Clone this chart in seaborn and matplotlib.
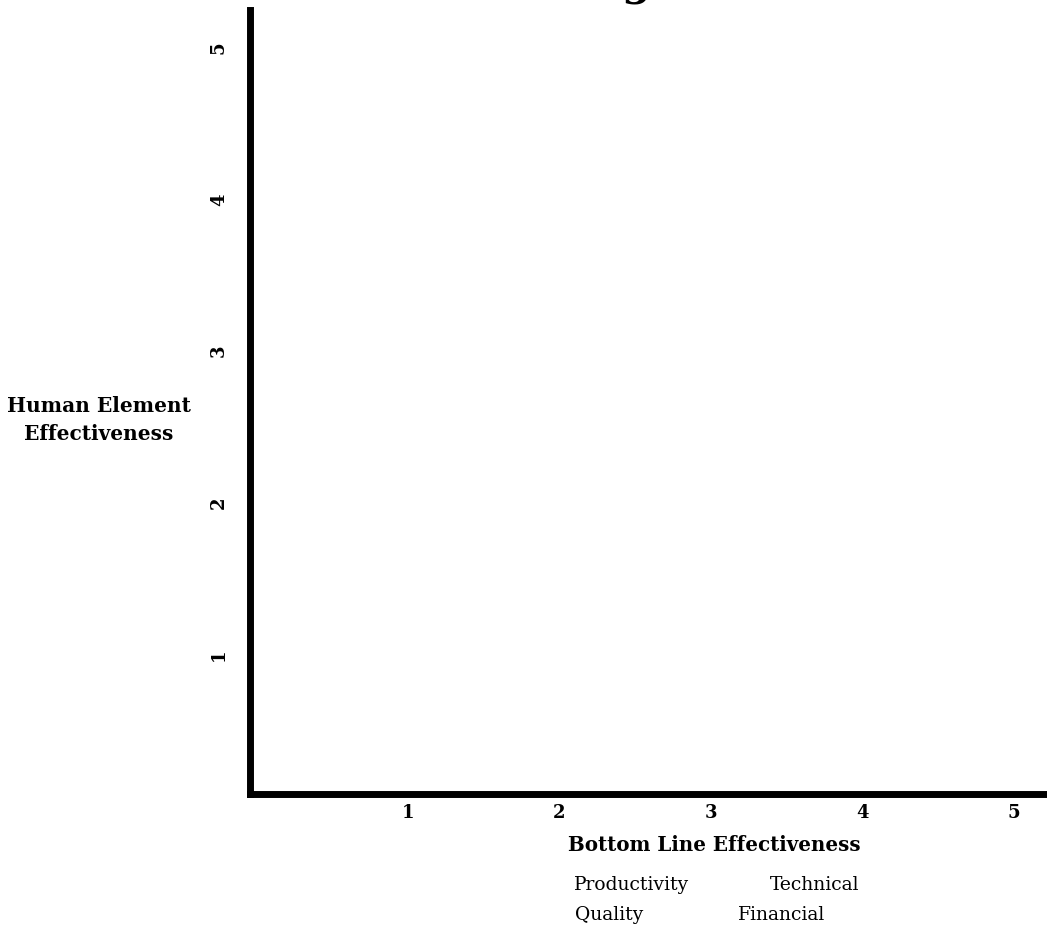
import matplotlib
matplotlib.use("Agg")
import matplotlib.pyplot as plt
import seaborn as sns
import pandas as pd

# Chart content
title_text = "Training"
x_label = "Bottom Line Effectiveness"
y_label = "Human Element\nEffectiveness"
x_ticks = [1, 2, 3, 4, 5]
y_ticks = [1, 2, 3, 4, 5]
x_limits = [-0.04, 5.22]
y_limits = [0.08, 5.25]
bottom_line_measures = ["Productivity", "Quality", "Technical", "Financial"]

sns.set_theme(style="white")
plt.rcParams['font.family'] = ['DejaVu Serif']
plt.rcParams.update({'text.color': 'black', 'axes.labelcolor': 'black',
                     'xtick.color': 'black', 'ytick.color': 'black'})

W, H = 1047, 930
fig = plt.figure(figsize=(W / 100, H / 100), dpi=100)
ax = fig.add_axes([250 / W, (H - 794) / H, (W - 250) / W, (794 - 10) / H])

# empty grid, nothing plotted yet
empty = pd.DataFrame({"x": pd.Series(dtype=float), "y": pd.Series(dtype=float)})
sns.scatterplot(data=empty, x="x", y="y", ax=ax)

ax.set_xlim(*x_limits)
ax.set_ylim(*y_limits)
ax.set_xticks(x_ticks)
ax.set_yticks(y_ticks)
ax.set_xticklabels([str(t) for t in x_ticks], fontsize=13, fontweight='bold')
ax.set_yticklabels([str(t) for t in y_ticks], fontsize=13, fontweight='bold',
                   rotation=90, va='center')
ax.tick_params(axis='x', length=0, pad=7)
ax.tick_params(axis='y', length=0, pad=16)

sns.despine(ax=ax)
for side in ['left', 'bottom']:
    ax.spines[side].set_linewidth(5)
    ax.spines[side].set_color('black')

ax.set_xlabel(x_label, fontsize=14.3, fontweight='bold')
ax.xaxis.set_label_coords(0.582, -0.065)
ax.xaxis.label.set_va('center')
ax.set_ylabel(y_label, fontsize=14.5, fontweight='bold', rotation=0,
              ha='center', va='center', multialignment='center',
              linespacing=1.45)
ax.yaxis.set_label_coords(-0.19, 0.477)

# bottom line measures under the x label
pos = [(0.479, -0.116), (0.450, -0.154), (0.708, -0.116), (0.667, -0.154)]
for name, (px, py) in zip(bottom_line_measures, pos):
    ax.text(px, py, name, transform=ax.transAxes, ha='center', va='center',
            fontsize=13.5)

# title sits mostly above the canvas
fig.text(652 / W, 1 + 6 / H, title_text, ha='right', va='baseline',
         fontsize=30, fontweight='bold')

fig.savefig("out.png", dpi=100)
